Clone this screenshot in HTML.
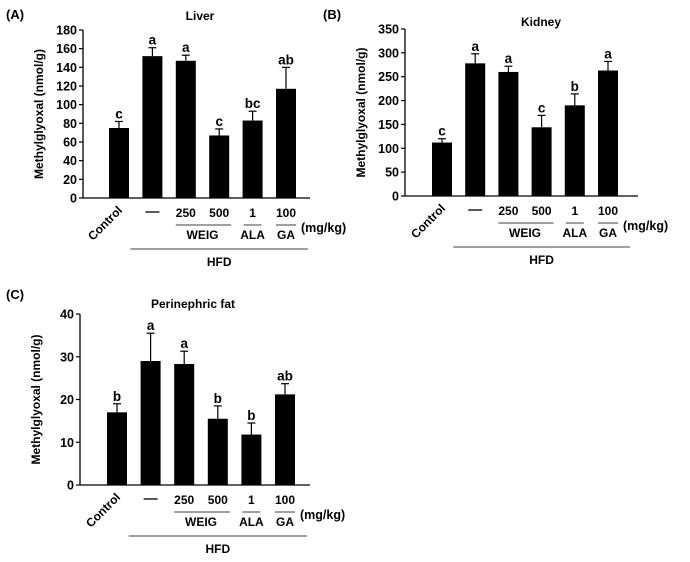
<!DOCTYPE html>
<html><head><meta charset="utf-8"><style>
body{margin:0;background:#fff;}
svg{display:block;font-family:"Liberation Sans",Arial,sans-serif;font-weight:bold;}
</style></head><body>
<svg id="s" width="690" height="562"></svg>
<script>
const groups = ["Control","HFD","WEIG 250","WEIG 500","ALA 1","GA 100"];
const liverVals = [75,152,147,67,83,117];
const liverErr = [7,9,6,7,10,23];
const liverSig = ["c","a","a","c","bc","ab"];
const kidneyVals = [112,278,260,144,190,263];
const kidneyErr = [8,20,12,25,24,19];
const kidneySig = ["c","a","a","c","b","a"];
const fatVals = [17,29,28.3,15.5,11.8,21.2];
const fatErr = [2,6.5,3,3,2.7,2.5];
const fatSig = ["b","a","a","b","b","ab"];
const liverTicks = [0,20,40,60,80,100,120,140,160,180];
const kidneyTicks = [0,50,100,150,200,250,300,350];
const fatTicks = [0,10,20,30,40];

const S = document.getElementById('s');
const NS = 'http://www.w3.org/2000/svg';
function mk(tag, at, parent, txt){
  const e = document.createElementNS(NS, tag);
  for (const k in at) e.setAttribute(k, at[k]);
  if (txt !== undefined) e.textContent = txt;
  (parent||S).appendChild(e);
  return e;
}
function panel(p){
  const g = mk('g', {});
  
  
  const ymax = p.ticks[p.ticks.length-1];
  const y = v => p.y0 - (v/ymax)*(p.y0 - p.ytop);
  const xc = i => p.x0 + p.first + i*p.step;
  const lab = mk('text', {x:p.labX, y:p.labY, 'font-size':13}, g, p.letter);
  
  
  const t = mk('text', {x:p.titleX, y:p.titleY, 'font-size':12, 'text-anchor':'middle'}, g, p.title);
  
  
  const yt = mk('text', {x:0, y:0, 'font-size':12, 'text-anchor':'middle', transform:`translate(${p.x0-40},${(p.y0+p.ytop)/2}) rotate(-90)`}, g, 'Methylglyoxal (nmol/g)');
  
  
  mk('line', {x1:p.x0, y1:p.ytop, x2:p.x0, y2:p.y0, stroke:'#000', 'stroke-width':1.3}, g);
  mk('line', {x1:p.x0, y1:p.y0, x2:p.xend, y2:p.y0, stroke:'#000', 'stroke-width':1.3}, g);
  p.ticks.forEach(tv => {
    mk('line', {x1:p.x0-4, y1:y(tv), x2:p.x0, y2:y(tv), stroke:'#000', 'stroke-width':1.2}, g);
    const tl = mk('text', {x:p.x0-6, y:y(tv)+4.5, 'font-size':12.5, 'text-anchor':'end'}, g, tv);
    
    
  });
  p.vals.forEach((v,i) => {
    const cx = xc(i);
    const b = mk('rect', {x:cx-10, y:y(v), width:20, height:p.y0-y(v), fill:'#000'}, g);
    
    
    const top = y(v + p.err[i]);
    mk('line', {x1:cx, y1:y(v), x2:cx, y2:top, stroke:'#000', 'stroke-width':1.2}, g);
    mk('line', {x1:cx-4, y1:top, x2:cx+4, y2:top, stroke:'#000', 'stroke-width':1.2}, g);
    const sl = mk('text', {x:cx, y:top-3, 'font-size':13.5, 'text-anchor':'middle'}, g, p.sig[i]);
    
    
  });
  const by = p.y0;
  const c = mk('text', {x:0, y:0, 'font-size':12, 'text-anchor':'end', transform:`translate(${xc(0)+4},${by+13}) rotate(-45)`}, g, 'Control');
  
  
  mk('line', {x1:xc(1)-7, y1:by+14, x2:xc(1)+7, y2:by+14, stroke:'#000', 'stroke-width':1.3}, g);
  ['250','500','1','100'].forEach((d,k) => {
    const dl = mk('text', {x:xc(k+2), y:by+19, 'font-size':12, 'text-anchor':'middle'}, g, d);
    
    
  });
  const uy = by + 27;
  mk('line', {x1:xc(2)-10, y1:uy, x2:xc(3)+12, y2:uy, stroke:'#000', 'stroke-width':0.8}, g);
  mk('line', {x1:xc(4)-9, y1:uy, x2:xc(4)+9, y2:uy, stroke:'#000', 'stroke-width':0.8}, g);
  mk('line', {x1:xc(5)-10, y1:uy, x2:xc(5)+10, y2:uy, stroke:'#000', 'stroke-width':0.8}, g);
  [['WEIG',(xc(2)+xc(3))/2],['ALA',xc(4)],['GA',xc(5)]].forEach(a => {
    const tl = mk('text', {x:a[1], y:by+41, 'font-size':12, 'text-anchor':'middle'}, g, a[0]);
    
    
  });
  const mg = mk('text', {x:xc(5)+15, y:by+34, 'font-size':12.5}, g, '(mg/kg)');
  
  
  mk('line', {x1:xc(1)-22, y1:by+51, x2:xc(5)+22, y2:by+51, stroke:'#000', 'stroke-width':0.8}, g);
  const h = mk('text', {x:(xc(1)+xc(5))/2, y:by+68, 'font-size':12, 'text-anchor':'middle'}, g, 'HFD');
  
  
}
panel({name:'liver-chart', letter:'(A)', labX:6, labY:19, title:'Liver', titleX:200, titleY:20,
  x0:83, y0:198, ytop:30, xend:310, first:36, step:33.4, ticks:liverTicks, vals:liverVals, err:liverErr, sig:liverSig});
panel({name:'kidney-chart', letter:'(B)', labX:323, labY:19, title:'Kidney', titleX:541, titleY:26,
  x0:405, y0:196, ytop:29, xend:638, first:37, step:33.2, ticks:kidneyTicks, vals:kidneyVals, err:kidneyErr, sig:kidneySig});
panel({name:'fat-chart', letter:'(C)', labX:6, labY:299, title:'Perinephric fat', titleX:193, titleY:308,
  x0:80, y0:485, ytop:314, xend:310, first:37, step:33.6, ticks:fatTicks, vals:fatVals, err:fatErr, sig:fatSig});
</script>
</body></html>
